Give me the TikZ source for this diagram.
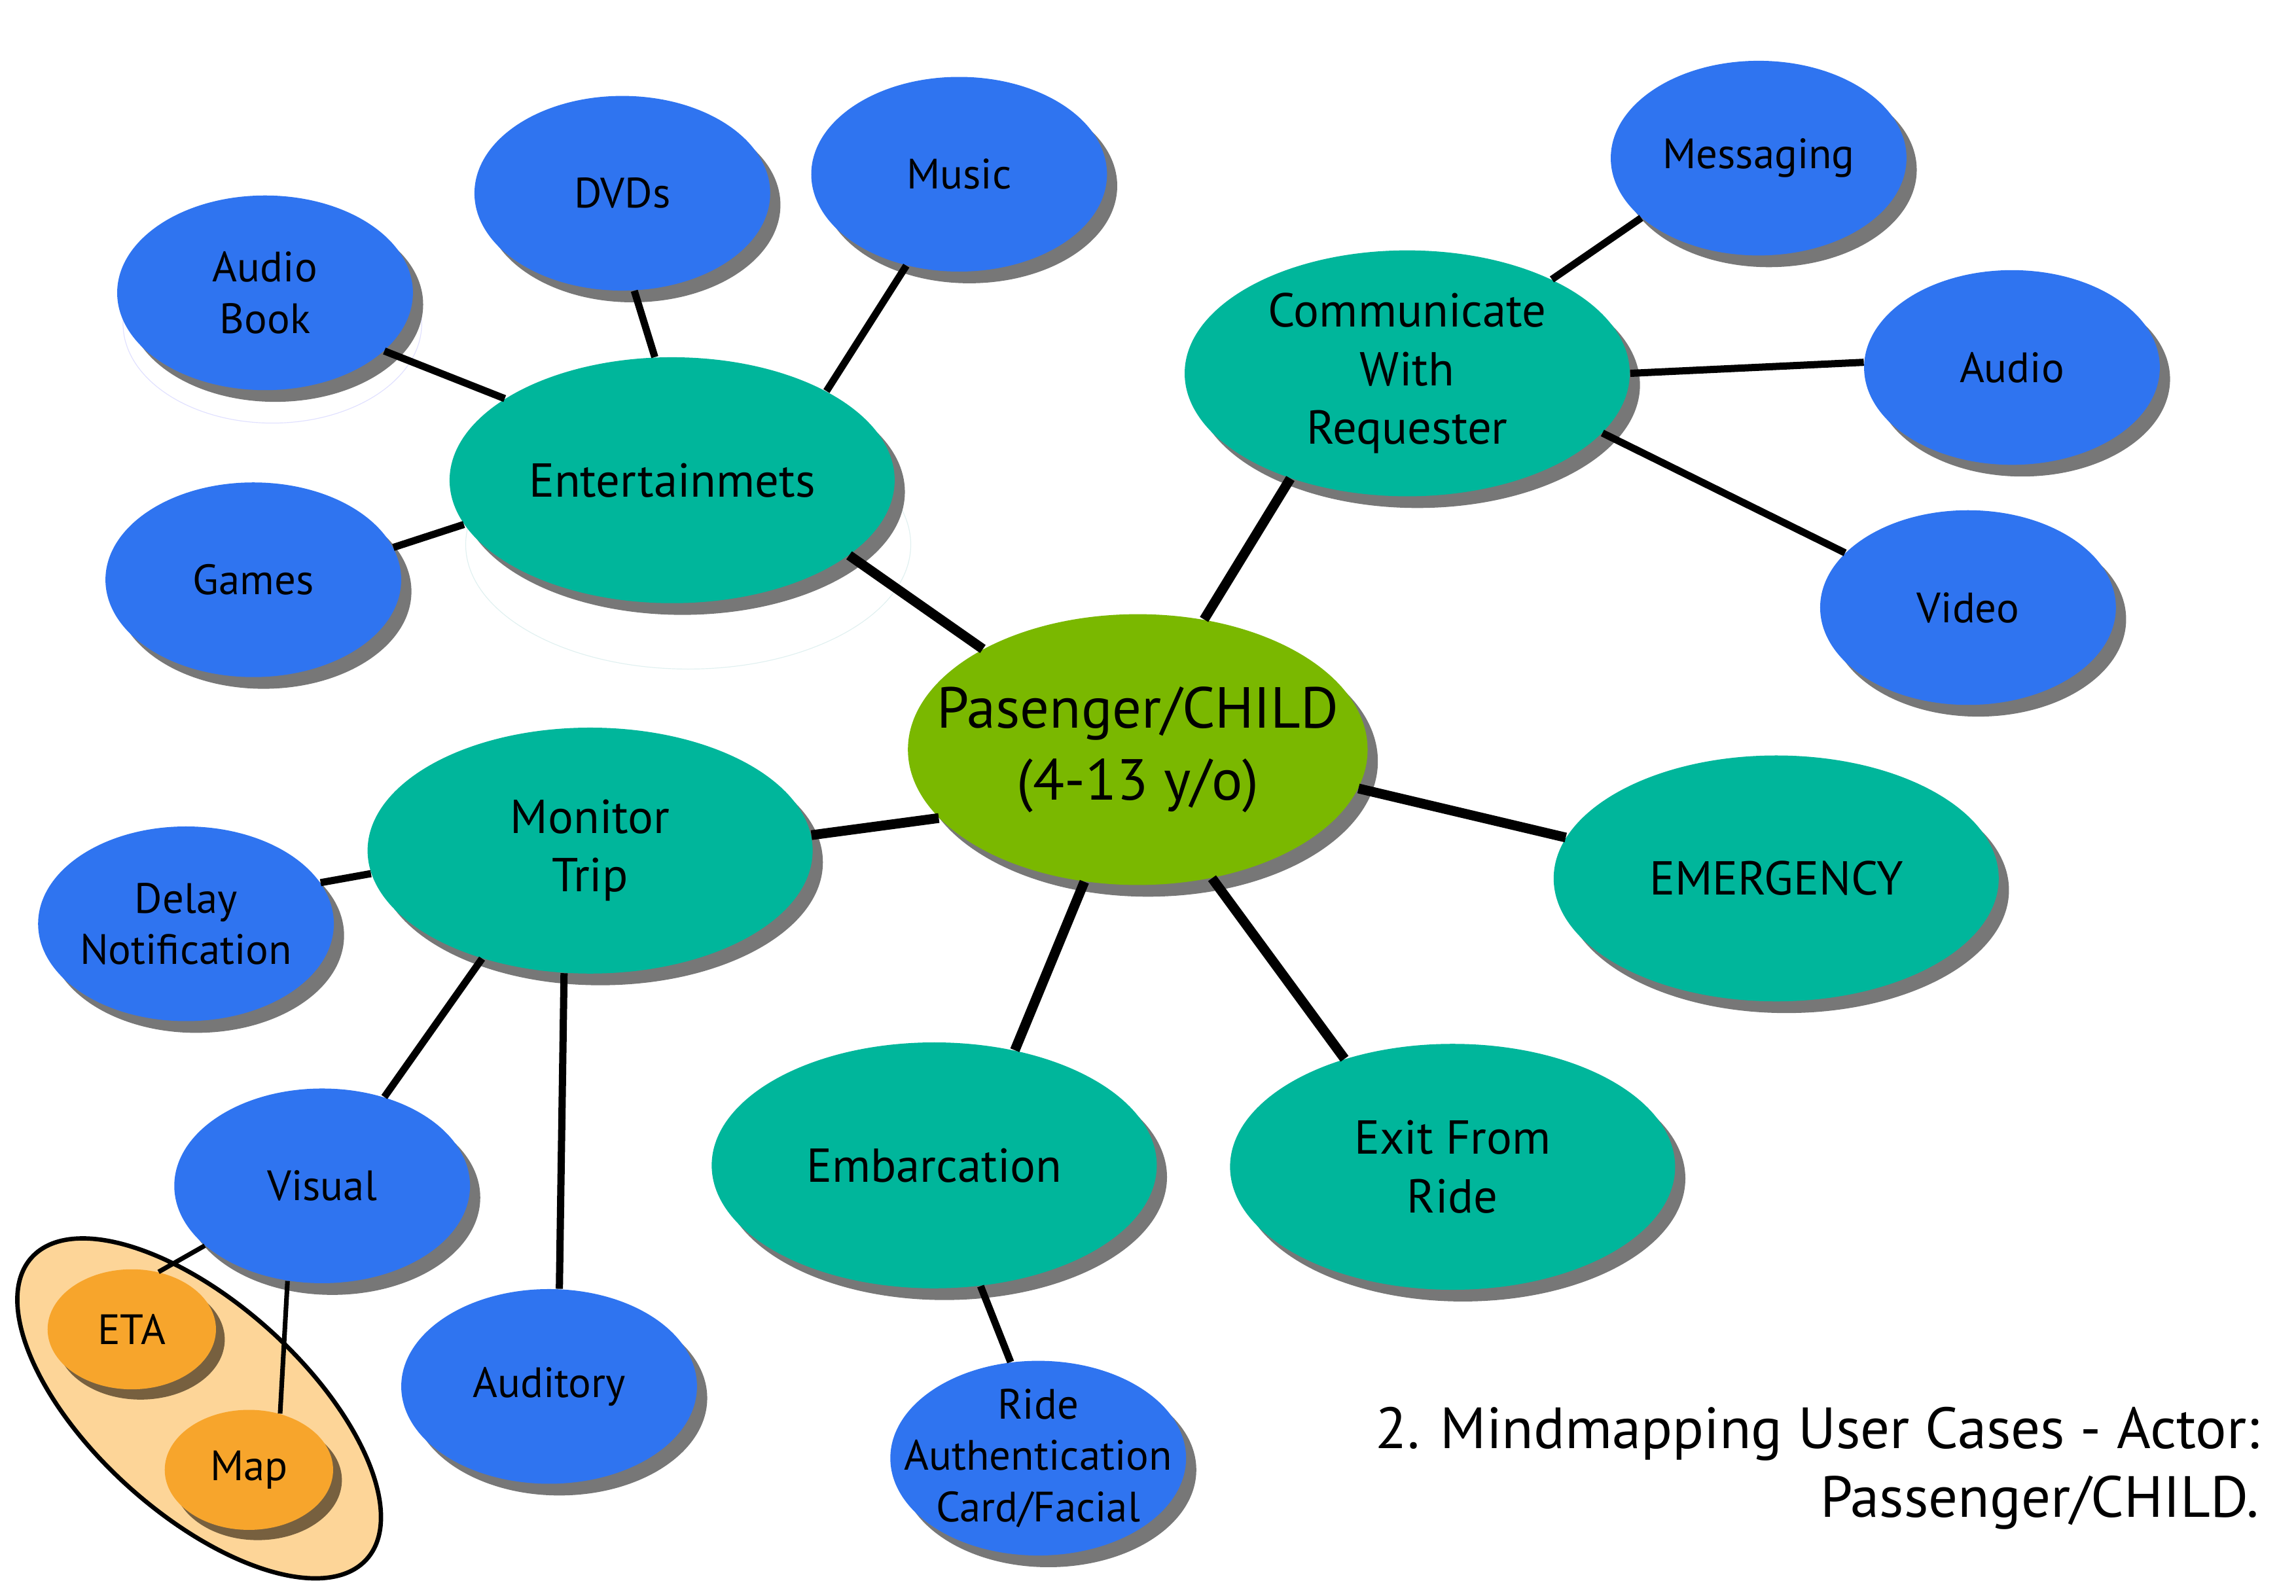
\documentclass[tikz,border=0pt]{standalone}
\usepackage{fontspec}
\setmainfont{PT Sans}
\usetikzlibrary{shapes.geometric,shadows}
\definecolor{azul}{HTML}{2F74F0}
\definecolor{turquesa}{HTML}{00B69B}
\definecolor{verde}{HTML}{7AB800}
\definecolor{laranja}{HTML}{F7A52C}
\definecolor{creme}{HTML}{FDD598}
\definecolor{cinza}{HTML}{777777}
\definecolor{marrom}{HTML}{77603F}
\begin{document}
\begin{tikzpicture}[x=0.02cm, y=-0.02cm, %1 unidade = 1 pixel da imagem
  bolha/.style={ellipse, inner sep=-1.5cm, align=center},
  sombra/.style={drop shadow={shadow xshift=0.14cm, shadow yshift=-0.16cm, fill=cinza, opacity=1}},
  raiz/.style={bolha, sombra, fill=verde, minimum width=6.28cm, minimum height=3.7cm, font=\fontsize{22.5}{28}\selectfont},
  ramo/.style={bolha, sombra, fill=turquesa, minimum width=6.08cm, minimum height=3.36cm, font=\fontsize{18.5}{22.7}\selectfont},
  folha/.style={bolha, sombra, fill=azul, minimum width=4.04cm, minimum height=2.66cm, font=\fontsize{16.5}{20}\selectfont},
  mini/.style={bolha, fill=laranja, minimum width=2.3cm, minimum height=1.64cm, font=\fontsize{16.5}{20}\selectfont,
    drop shadow={shadow xshift=0.12cm, shadow yshift=-0.14cm, fill=marrom, opacity=1}},
  grupo/.style={ellipse, draw, line width=1.7pt, fill=creme, minimum width=6.16cm, minimum height=2.88cm},
  fantasma/.style={ellipse, draw, line width=0.3pt, inner sep=0pt},
  grossa/.style={line width=3.8pt},
  liga/.style={line width=2.8pt},
  fina/.style={line width=1.8pt}]
\useasboundingbox (0,0) rectangle (1568,1090); %Área da figura
	%Contornos apagados
\node[fantasma, draw=blue!12, minimum width=4.08cm, minimum height=2.72cm] (f1) at (186,221) {};
\node[fantasma, draw=teal!12, minimum width=6.08cm, minimum height=3.4cm] (f2) at (470,372) {};
	%Grupo ETA/Map
\node[grupo, rotate=-42] (grp) at (136,962) {};
	%Centro
\node[raiz] (pc) at (777,512) {Pasenger/CHILD\\(4-13 y/o)};
	%Ramos
\node[ramo] (ent) at (459,328) {Entertainmets};
\node[ramo] (com) at (961,255) {Communicate\\With\\Requester};
\node[ramo] (emg) at (1213,600) {EMERGENCY};
\node[ramo] (sai) at (992,797) {Exit From\\Ride};
\node[ramo] (emb) at (638,796) {Embarcation};
\node[ramo] (mon) at (403,581) {Monitor\\Trip};
	%Folhas
\node[folha] (ab) at (181,200) {Audio\\Book};
\node[folha] (dvd) at (425,132) {DVDs};
\node[folha] (mus) at (655,119) {Music};
\node[folha] (gam) at (173,396) {Games};
\node[folha] (msg) at (1201,108) {Messaging};
\node[folha] (aud) at (1374,251) {Audio};
\node[folha] (vid) at (1344,415) {Video};
\node[folha] (rid) at (709,996) {Ride\\Authentication\\Card/Facial};
\node[folha] (atr) at (127,631) {Delay\\Notification};
\node[folha] (vis) at (220,810) {Visual};
\node[folha] (adt) at (375,947) {Auditory};
\node[mini] (eta) at (90,908) {ETA};
\node[mini] (map) at (170,1004) {Map};
	%Ligações
\draw[grossa] (pc.147) -- (ent.-23);
\draw[grossa] (pc.63) -- (com.222);
\draw[grossa] (pc.-10) -- (emg.169);
\draw[grossa] (pc.-60) -- (sai.135);
\draw[grossa] (pc.-112) -- (emb.55);
\draw[grossa] (pc.199) -- (mon.4);
\draw[liga] (ent.154) -- (ab.-26);
\draw[liga] (ent.98) -- (dvd.-83);
\draw[liga] (ent.30) -- (mus.-120);
\draw[liga] (ent.192) -- (gam.13);
\draw[liga] (com.33) -- (msg.207);
\draw[liga] (com.0) -- (aud.178);
\draw[liga] (com.-17) -- (vid.156);
\draw[liga] (mon.186) -- (atr.17);
\draw[liga] (mon.225) -- (vis.55);
\draw[liga] (mon.258) -- (adt.84);
\draw[liga] (emb.-69) -- (rid.106);
\draw[fina] (vis.207) -- (eta.65);
\draw[fina] (vis.250) -- (map.61);
	%Título
\node[anchor=east, align=right, font=\fontsize{22.6}{26.6}\selectfont] (tit) at (1549,1003) {2. Mindmapping User Cases - Actor:\\Passenger/CHILD.};
\end{tikzpicture}
\end{document}
